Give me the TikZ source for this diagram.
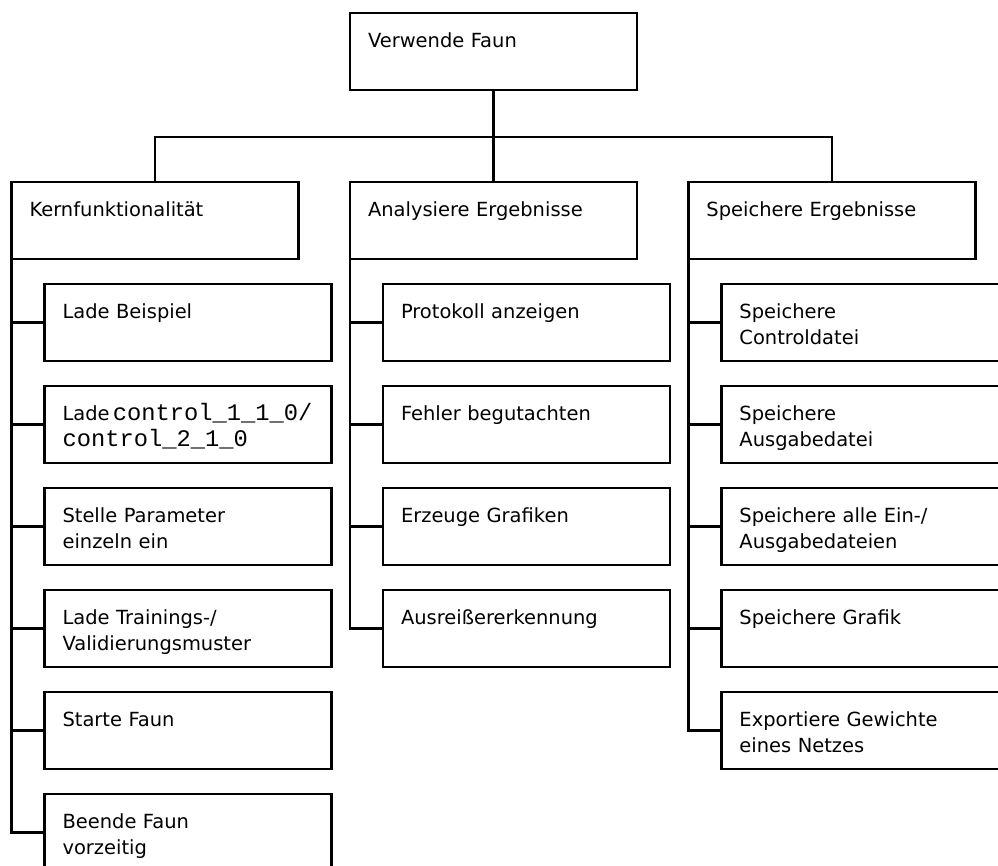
\documentclass[tikz,border=0pt]{standalone}
\usepackage{fontspec}
\setmainfont{DejaVu Sans}
\newfontfamily\codefont{Liberation Mono}[Scale=1.22]
\usetikzlibrary{positioning}

\tikzset{
	box/.style={draw, line width=1.8pt, outer sep=0pt, minimum width=215.25pt,
		text width=188.25pt, inner xsep=13.5pt, inner ysep=0pt, align=left,
		text height=25.9pt, text depth=31.85pt,
		font=\fontsize{14.6}{19.5}\selectfont},
	link/.style={line width=1.8pt}
}

\begin{document}
\begin{tikzpicture}[node distance=18.75pt]
	\useasboundingbox (-262.5pt,9.75pt) rectangle (486pt,-639.75pt);

	\node (faun) [box, anchor=north west] at (0,0) {Verwende Faun};
	\node (ana) [box, below=69pt of faun] {Analysiere Ergebnisse};
	\node (kern) [box, left=38.6pt of ana] {Kernfunktionalität};
	\node (spei) [box, right=38.6pt of ana] {Speichere Ergebnisse};

	\node (k1) [box, below right=18.75pt and 24.75pt of kern.south west, anchor=north west] {Lade Beispiel};
	\node (k2) [box, below=of k1] {Lade\,{\codefont control\_1\_1\_0/}\\{\codefont control\_2\_1\_0}};
	\node (k3) [box, below=of k2] {Stelle Parameter\\einzeln ein};
	\node (k4) [box, below=of k3] {Lade Trainings-/\\Validierungsmuster};
	\node (k5) [box, below=of k4] {Starte Faun};
	\node (k6) [box, below=of k5] {Beende Faun\\vorzeitig};

	\node (a1) [box, below right=18.75pt and 24.75pt of ana.south west, anchor=north west] {Protokoll anzeigen};
	\node (a2) [box, below=of a1] {Fehler begutachten};
	\node (a3) [box, below=of a2] {Erzeuge Grafiken};
	\node (a4) [box, below=of a3] {Ausreißererkennung};

	\node (s1) [box, below right=18.75pt and 24.75pt of spei.south west, anchor=north west] {Speichere\\Controldatei};
	\node (s2) [box, below=of s1] {Speichere\\Ausgabedatei};
	\node (s3) [box, below=of s2] {Speichere alle Ein-/\\Ausgabedateien};
	\node (s4) [box, below=of s3] {Speichere Grafik};
	\node (s5) [box, below=of s4] {Exportiere Gewichte\\eines Netzes};

	\coordinate (bar) at ([yshift=-35.25pt]faun.south);
	\draw[link] (faun.south) -- (bar);
	\draw[link] (kern.north) |- (bar) -| (spei.north);
	\draw[link] (bar) -- (ana.north);

	\draw[link] (kern.south west) |- (k6.west);
	\foreach \i in {1,...,5}
		\draw[link] (kern.south west |- k\i.west) -- (k\i.west);
	\draw[link] (ana.south west) |- (a4.west);
	\foreach \i in {1,...,3}
		\draw[link] (ana.south west |- a\i.west) -- (a\i.west);
	\draw[link] (spei.south west) |- (s5.west);
	\foreach \i in {1,...,4}
		\draw[link] (spei.south west |- s\i.west) -- (s\i.west);
\end{tikzpicture}
\end{document}
